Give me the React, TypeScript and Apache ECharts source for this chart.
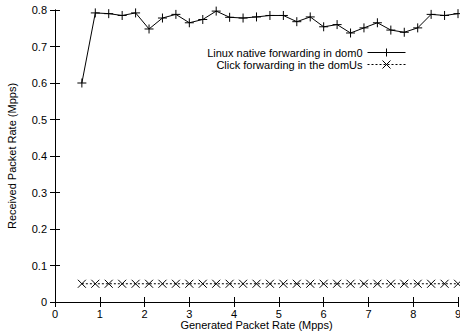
import React, { useEffect, useRef } from "react";
import * as echarts from "echarts";

const xValues = [0.6, 0.9, 1.2, 1.5, 1.8, 2.1, 2.4, 2.7, 3.0, 3.3, 3.6, 3.9, 4.2, 4.5, 4.8, 5.1, 5.4, 5.7, 6.0, 6.3, 6.6, 6.9, 7.2, 7.5, 7.8, 8.1, 8.4, 8.7, 9.0];
const linuxNative = [0.600, 0.792, 0.790, 0.785, 0.792, 0.748, 0.778, 0.788, 0.765, 0.774, 0.797, 0.780, 0.778, 0.781, 0.785, 0.785, 0.768, 0.781, 0.754, 0.760, 0.737, 0.751, 0.765, 0.745, 0.739, 0.751, 0.788, 0.785, 0.790];
const clickDomU = [0.05, 0.05, 0.05, 0.05, 0.05, 0.05, 0.05, 0.05, 0.05, 0.05, 0.05, 0.05, 0.05, 0.05, 0.05, 0.05, 0.05, 0.05, 0.05, 0.05, 0.05, 0.05, 0.05, 0.05, 0.05, 0.05, 0.05, 0.05, 0.05];
const seriesNames = ["Linux native forwarding in dom0", "Click forwarding in the domUs"];
const xAxisName = "Generated Packet Rate (Mpps)";
const yAxisName = "Received Packet Rate (Mpps)";

const FONT = "'Liberation Sans', Arial, Helvetica, sans-serif";
const PLUS = "path://M0,5L10,5M5,0L5,10";
const CROSS = "path://M0,0L10,10M10,0L0,10";

export default function App() {
  const ref = useRef<HTMLDivElement>(null);
  useEffect(() => {
    if (!ref.current) return;
    const chart = echarts.init(ref.current, null, { renderer: "svg" });
    const axisLine = { show: true, lineStyle: { color: "#000", width: 1 } };
    const tick = { show: true, inside: true, length: 5, lineStyle: { color: "#000", width: 1 } };
    const label = { color: "#000", fontSize: 11, fontFamily: FONT };
    chart.setOption({
      animation: false,
      backgroundColor: "#fff",
      textStyle: { fontFamily: FONT, color: "#000" },
      grid: { left: 55, right: 2, top: 10, bottom: 30, containLabel: false, outerBoundsMode: "none" },
      legend: {
        orient: "vertical",
        align: "right",
        right: 54,
        top: 47,
        padding: 0,
        itemGap: 1,
        itemWidth: 38,
        itemHeight: 10,
        lineStyle: { width: 1 },
        itemStyle: { borderWidth: 1 },
        textStyle: { color: "#000", fontSize: 11, fontFamily: FONT },
        data: seriesNames,
      },
      xAxis: [
        {
          type: "value",
          min: 0,
          max: 9,
          interval: 1,
          position: "bottom",
          name: xAxisName,
          nameLocation: "middle",
          nameGap: 17,
          nameMoveOverlap: false,
          nameTextStyle: { color: "#000", fontSize: 11, fontFamily: FONT },
          axisLine,
          axisTick: tick,
          axisLabel: { ...label, margin: 6 },
          splitLine: { show: false },
        },
        {
          type: "value",
          min: 0,
          max: 9,
          interval: 1,
          position: "top",
          axisLine,
          axisTick: tick,
          axisLabel: { show: false },
          splitLine: { show: false },
        },
      ],
      yAxis: [
        {
          type: "value",
          min: 0,
          max: 0.8,
          interval: 0.1,
          position: "left",
          name: yAxisName,
          nameLocation: "middle",
          nameGap: 38,
          nameRotate: 90,
          nameMoveOverlap: false,
          nameTextStyle: { color: "#000", fontSize: 11, fontFamily: FONT },
          axisLine,
          axisTick: tick,
          axisLabel: { ...label, margin: 8, formatter: (v: number) => String(Math.round(v * 10) / 10) },
          splitLine: { show: false },
        },
        {
          type: "value",
          min: 0,
          max: 0.8,
          interval: 0.1,
          position: "right",
          axisLine,
          axisTick: tick,
          axisLabel: { show: false },
          splitLine: { show: false },
        },
      ],
      series: [
        {
          name: seriesNames[0],
          type: "line",
          xAxisIndex: 0,
          yAxisIndex: 0,
          data: xValues.map((x, i) => [x, linuxNative[i]]),
          symbol: PLUS,
          symbolSize: 9,
          showAllSymbol: true,
          lineStyle: { color: "#000", width: 1 },
          itemStyle: { color: "#000", borderColor: "#000", borderWidth: 1 },
          emphasis: { disabled: true },
        },
        {
          name: seriesNames[1],
          type: "line",
          xAxisIndex: 0,
          yAxisIndex: 0,
          data: xValues.map((x, i) => [x, clickDomU[i]]),
          symbol: CROSS,
          symbolSize: 8,
          showAllSymbol: true,
          lineStyle: { color: "#000", width: 1, type: [2, 2] },
          itemStyle: { color: "#000", borderColor: "#000", borderWidth: 1 },
          emphasis: { disabled: true },
        },
      ],
    });
    return () => chart.dispose();
  }, []);
  return <div ref={ref} style={{ position: "fixed", left: 0, top: 0, width: 460, height: 332 }} />;
}
